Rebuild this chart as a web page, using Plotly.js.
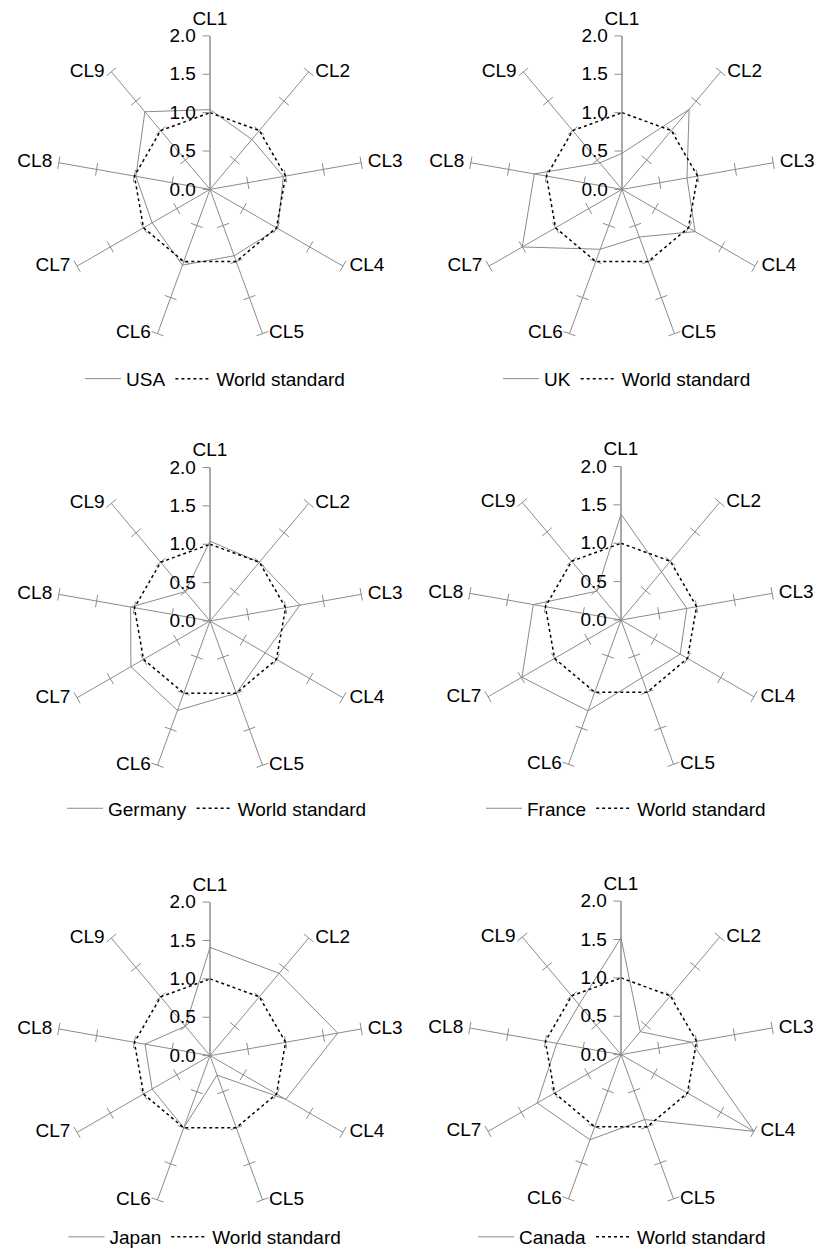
<!DOCTYPE html>
<html>
<head>
<meta charset="utf-8">
<script src="https://cdn.plot.ly/plotly-3.0.1.min.js"></script>
<style>
html,body{margin:0;padding:0;background:#fff;}
#chart{width:820px;height:1256px;}
</style>
</head>
<body>
<div id="chart"></div>
<script>
// ---- data ----
const categories = ["CL1","CL2","CL3","CL4","CL5","CL6","CL7","CL8","CL9"];
const countries = ["USA","UK","Germany","France","Japan","Canada"];
const usa     = [1.04, 0.85, 0.97, 1.02, 0.92, 1.05, 0.87, 0.98, 1.32];
const uk      = [0.47, 1.36, 0.86, 1.10, 0.66, 0.83, 1.50, 1.16, 0.45];
const germany = [1.04, 1.00, 1.19, 0.83, 1.00, 1.24, 1.19, 1.05, 0.50];
const france  = [1.38, 0.82, 0.87, 0.89, 0.80, 1.26, 1.49, 1.16, 0.49];
const japan   = [1.41, 1.40, 1.69, 1.14, 0.27, 1.00, 0.87, 0.86, 0.50];
const canada  = [1.52, 0.39, 0.93, 2.00, 0.90, 1.18, 1.26, 0.85, 0.85];
const worldStandard = [1, 1, 1, 1, 1, 1, 1, 1, 1];
const radialTickVals = [0, 0.5, 1.0, 1.5, 2.0];
const radialTickText = ["0.0", "0.5", "1.0", "1.5", "2.0"];
const seriesByCountry = [usa, uk, germany, france, japan, canada];

// ---- layout geometry ----
const W = 820, H = 1256, R = 154;
const centers = [[210,190],[622,190],[210,623],[621,622],[210,1059],[621,1058]];
const legendY = [380, 380, 811, 811, 1241, 1241];
const legendX = [215, 627, 217, 626, 205, 622];

const font = "Liberation Sans, Arial, sans-serif";
const spokeColor = "#8c8c8c";
const rMax = Math.max(...radialTickVals);

function close(arr){ return arr.concat([arr[0]]); }

const traces = [];
const layout = {
  width: W, height: H,
  margin: {l:0, r:0, t:0, b:0},
  paper_bgcolor: "#fff",
  font: {family: font, color: "#000"},
  showlegend: true
};

// tick marks on every spoke (except CL1 which carries the radial axis)
const tickTheta = [], tickR = [], tickAngle = [];
categories.forEach((c, k) => {
  if (k === 0) return;
  radialTickVals.slice(1).forEach(v => {
    tickTheta.push(c); tickR.push(v); tickAngle.push(40 * k);
  });
});
// category labels at the end of each spoke
const labelR = categories.map(() => rMax);
const labelPos = categories.map((c, k) => k === 0 ? "top center" : (k <= 4 ? "middle right" : "middle left"));

countries.forEach((name, i) => {
  const sp = i === 0 ? "polar" : "polar" + (i + 1);
  const lg = i === 0 ? "legend" : "legend" + (i + 1);
  const [cx, cy] = centers[i];
  layout[sp] = {
    domain: {x: [(cx - R) / W, (cx + R) / W], y: [1 - (cy + R) / H, 1 - (cy - R) / H]},
    bgcolor: "rgba(0,0,0,0)",
    angularaxis: {
      type: "category", categoryarray: categories,
      direction: "clockwise", rotation: 90,
      showgrid: true, gridcolor: spokeColor, gridwidth: 1,
      showline: false, ticks: "", showticklabels: false
    },
    radialaxis: {
      range: [0, rMax], tickvals: radialTickVals, ticktext: radialTickText,
      angle: 90, side: "counterclockwise", tickangle: 90,
      showline: true, linecolor: spokeColor, linewidth: 1,
      showgrid: false, ticks: "outside", ticklen: 7, tickcolor: spokeColor,
      tickfont: {family: font, size: 19, color: "#000"}
    }
  };
  layout[lg] = {
    orientation: "h", x: legendX[i] / W, y: 1 - legendY[i] / H,
    xanchor: "center", yanchor: "middle",
    font: {family: font, size: 19, color: "#000"},
    bgcolor: "rgba(0,0,0,0)", traceorder: "normal", itemwidth: 36
  };
  traces.push({
    type: "scatterpolar", subplot: sp, legend: lg,
    theta: tickTheta, r: tickR, mode: "markers",
    marker: {symbol: "line-ew", size: 9, angle: tickAngle, line: {color: spokeColor, width: 1}},
    showlegend: false, hoverinfo: "skip", cliponaxis: false
  });
  traces.push({
    type: "scatterpolar", subplot: sp, legend: lg,
    theta: categories, r: labelR, mode: "markers+text",
    text: categories, textposition: labelPos,
    textfont: {family: font, size: 19, color: "#000"},
    marker: {size: 9, opacity: 0, color: "#fff"},
    showlegend: false, hoverinfo: "skip", cliponaxis: false
  });
  traces.push({
    type: "scatterpolar", subplot: sp, legend: lg,
    theta: close(categories), r: close(seriesByCountry[i]),
    mode: "lines", name: name,
    line: {color: "#8a8a8a", width: 1}
  });
  traces.push({
    type: "scatterpolar", subplot: sp, legend: lg,
    theta: close(categories), r: close(worldStandard),
    mode: "lines", name: "World standard",
    line: {color: "#000", width: 1.5, dash: "dot"}
  });
});

Plotly.newPlot("chart", traces, layout, {staticPlot: true});
</script>
</body>
</html>
